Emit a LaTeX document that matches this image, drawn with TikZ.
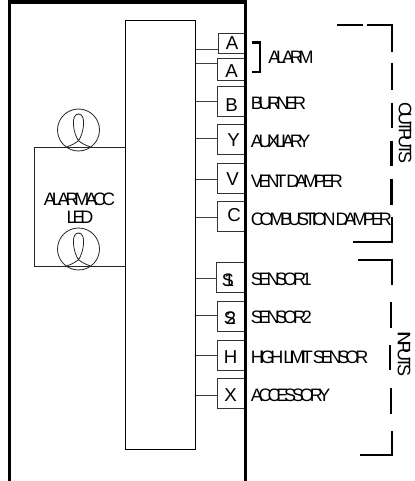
\documentclass[tikz,border=0pt]{standalone}
\usepackage{fontspec}
\setmainfont{Liberation Sans}
\newfontfamily\tightA[LetterSpace=-23,WordSpace=0.1]{Liberation Sans}
\newfontfamily\tightB[LetterSpace=-55]{Liberation Sans}
\tikzset{
  x=0.75pt,y=-0.75pt,
  wall/.style={line width=2.3pt,black},
  thinline/.style={line width=0.7pt,black!85},
  lead/.style={line width=0.6pt,black!75},
  pinbox/.style={draw=black!80,line width=0.7pt,fill=white,inner sep=0pt,anchor=north west},
  pinletter/.style={font=\fontsize{14pt}{15pt}\selectfont,inner sep=0pt,text=black},
  overlap/.style={font=\fontsize{13.5pt}{14pt}\selectfont\tightB,inner sep=0pt,text=black},
  tag/.style={font=\fontsize{13.5pt}{14pt}\selectfont\tightA,inner sep=0pt,anchor=west},
  midtag/.style={font=\fontsize{13.5pt}{14pt}\selectfont\tightA,inner sep=0pt},
  heavy/.style={line width=1.6pt,black},
}
\newcommand{\pinbox}[5]{%name,x0,y0,w,h
  \node[pinbox,minimum width=#4*0.75pt,minimum height=#5*0.75pt] (#1) at (#2,#3) {};}
\newcommand{\lamp}[2]{%name, y
  \node[circle,draw=black!85,line width=0.6pt,minimum size=31.5pt,inner sep=0pt] (#1) at (78.5,#2) {};
  \draw[line width=0.6pt,black!85] ($(#1.center)+(12,17)$)
    .. controls ($(#1.center)+(6,15)$) and ($(#1.center)+(3,13)$) .. ($(#1.center)+(0,10.7)$)
    .. controls ($(#1.center)+(-5,4)$) and ($(#1.center)+(-8.5,-16)$) .. ($(#1.center)+(0,-16)$)
    .. controls ($(#1.center)+(8.5,-16)$) and ($(#1.center)+(5,4)$) .. ($(#1.center)+(0,10.7)$)
    .. controls ($(#1.center)+(-3,13)$) and ($(#1.center)+(-6,15)$) .. ($(#1.center)+(-12,17)$);}
\usetikzlibrary{calc}
\begin{document}
\begin{tikzpicture}
\useasboundingbox (0,0) rectangle (414,481);
% panel
\node[draw=black,line width=0.8pt,minimum width=70.5*0.75pt,minimum height=428.5*0.75pt,inner sep=0pt,anchor=north west] (panel) at (124.5,20) {};
% pin boxes
\pinbox{a1}{218}{33}{28}{20}
\pinbox{a2}{217}{58}{29}{22}
\pinbox{b}{217}{86}{29}{30}
\pinbox{y}{217}{124}{29}{30}
\pinbox{v}{217}{163}{29}{30}
\pinbox{c}{217}{201}{29}{30}
\pinbox{s1}{215.5}{262}{30.5}{30}
\pinbox{s2}{217}{301}{29}{30}
\pinbox{h}{217}{340}{29}{30}
\pinbox{xx}{217}{378}{29}{30}
% letters
\node[pinletter] (la1) at (232,43) {A};
\node[pinletter] (la2) at (231.5,71) {A};
\node[pinletter] (lb) at (231.5,105) {B};
\node[pinletter] (ly) at (233.5,140) {Y};
\node[pinletter] (lv) at (232.5,179) {V};
\node[pinletter] (lc) at (234,215) {C};
\node[overlap] (ls1) at (228,280) {S1};
\node[overlap] (ls2) at (230,318) {S2};
\node[pinletter] (lh) at (230.5,357) {H};
\node[pinletter] (lx) at (230.5,395) {X};
% leads
\foreach \n/\yy in {a1/49.5,a2/63,b/101,y/138,v/179,c/217,s1/278,s2/315,h/355,xx/395}
  \draw[lead] (panel.east |- 0,\yy) -- (\n.west |- 0,\yy);
% outer walls
\draw[wall] (9.8,481) -- (9.8,2) -- (245.8,2) -- (245.8,481);
% lamps
\lamp{l1}{130}
\lamp{l2}{249}
\draw[thinline] (panel.west |- 0,147.5) -- (34.5,147.5) -- (34.5,266) -- (panel.west |- 0,266);
\node[midtag] (almacc) at (79.5,199) {ALARMACC};
\node[midtag] (led) at (80,217) {LED};
% tags
\node[tag] (talarm) at (268,57) {ALARM};
\node[tag] (tb) at (250.5,103) {BURNER};
\node[tag] (ty) at (250.5,141) {AUXLIARY};
\node[tag] (tv) at (250.5,181) {VENT DAMPER};
\node[tag] (tc) at (250.5,219) {COMBUSTION DAMPER};
\node[tag] (ts1) at (250.5,279) {SENSOR1};
\node[tag] (ts2) at (250.5,317) {SENSOR2};
\node[tag] (th) at (250.5,357) {HIGH LIMIT SENSOR};
\node[tag] (tx) at (250.5,395) {ACCESSORY};
\node[midtag,rotate=-90] (tout) at (405,133) {OUTPUTS};
\node[midtag,rotate=-90] (tin) at (404,354) {INPUTS};
% alarm bracket
\draw[heavy] (252,42.5) -- (260,42.5) -- (260,72) -- (252,72);
% outputs
\draw[heavy] (337,25) -- (363,25);
\draw[heavy] (367,25) -- (392,25) -- (392,52);
\foreach \ya/\yb/\xx in {63/90/392,103/128/392,141/166/391.5,179/205/391.5}
  \draw[heavy] (\xx,\ya) -- (\xx,\yb);
\draw[heavy] (392,217) -- (392,242) -- (353,242);
% inputs
\draw[heavy] (358,260) -- (392,260) -- (392,285);
\foreach \ya/\yb/\xx in {302/328/391,345/370/390,388/414/391}
  \draw[heavy] (\xx,\ya) -- (\xx,\yb);
\draw[heavy] (392,431) -- (392,455) -- (360,455);
\end{tikzpicture}
\end{document}
